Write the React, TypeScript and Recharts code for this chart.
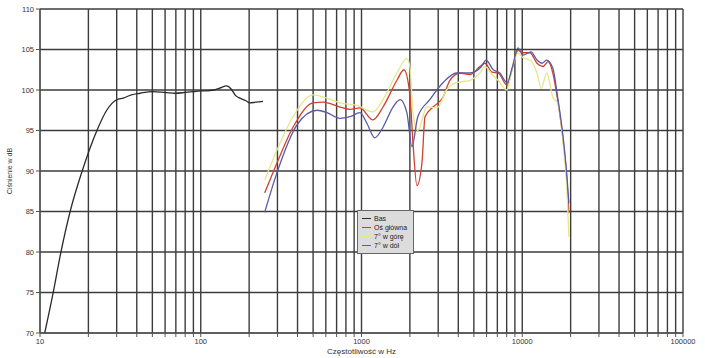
import React from 'react';
import { LineChart, Line, XAxis, YAxis, CartesianGrid, Legend } from 'recharts';

// frequency in Hz, level in dB
const bassF = [10.7, 12, 13.5, 15.4, 18.3, 22.6, 26, 30, 33, 37, 42, 50, 60, 70, 80, 90, 100, 110, 120, 130, 145, 155, 165, 175, 190, 202, 220, 244];
const bassDb = [70, 74.7, 80, 85, 90, 95, 97.5, 98.8, 99.0, 99.4, 99.6, 99.8, 99.7, 99.6, 99.7, 99.8, 99.9, 99.9, 100, 100.2, 100.5, 100.1, 99.3, 99.0, 98.7, 98.4, 98.5, 98.6];

const mainF = [250, 298, 375, 499, 576, 734, 848, 978, 1176, 1361, 1661, 1838, 2000, 2090, 2213, 2377, 2484, 2786, 3214, 3548, 4100, 4730, 5456, 5860, 6490, 7070, 8040, 8630, 9410, 10100, 11170, 12350, 13460, 14460, 15500, 16600, 17950, 18970, 19500];
const mainDb = [87.3, 91.0, 95.4, 98.4, 98.5, 97.9, 97.6, 97.8, 96.3, 97.9, 101.2, 102.5, 99.4, 93.5, 88.2, 91.0, 96.7, 97.9, 99.1, 101.2, 102.1, 101.9, 102.9, 103.3, 102.2, 102.1, 100.6, 102.5, 104.9, 104.6, 104.6, 103.3, 102.9, 103.5, 102.1, 98.8, 93.8, 88.9, 84.8];

const upF = [250, 298, 375, 499, 610, 734, 940, 1176, 1361, 1661, 1915, 2000, 2090, 2240, 2550, 2960, 3380, 3900, 4730, 5456, 5860, 6490, 7070, 8040, 8630, 9410, 10100, 11170, 12350, 13140, 14200, 15500, 16600, 17950, 18970, 19500];
const upDb = [88.9, 92.6, 96.7, 99.4, 99.0, 98.4, 98.1, 97.3, 98.8, 102.1, 103.9, 102.9, 97.2, 95.0, 97.9, 97.8, 100.0, 100.9, 101.2, 102.1, 102.9, 101.9, 101.2, 100.0, 102.5, 104.6, 104.0, 103.7, 102.1, 100.2, 102.1, 99.1, 98.4, 93.5, 87.7, 81.9];

const downF = [250, 298, 397, 529, 610, 734, 848, 978, 1080, 1210, 1361, 1570, 1740, 1915, 2060, 2240, 2660, 3210, 3900, 4730, 5570, 5950, 6600, 7250, 8040, 8700, 9410, 10100, 11350, 12350, 13300, 14200, 15500, 16600, 17950, 18970, 19500];
const downDb = [84.9, 89.8, 95.7, 97.5, 97.2, 96.5, 96.7, 97.2, 95.9, 94.1, 95.4, 97.9, 98.8, 97.2, 93.0, 96.7, 98.8, 100.9, 102.1, 102.1, 102.9, 103.7, 102.5, 102.1, 100.9, 102.9, 105.2, 104.3, 104.7, 103.7, 103.3, 103.7, 102.7, 99.1, 94.2, 89.3, 86.0];

const yTicks = [70, 75, 80, 85, 90, 95, 100, 105, 110];
const decades = [10, 100, 1000, 10000];
const xTicks: number[] = [];
decades.forEach((d) => {
  for (let m = 1; m <= 9; m++) xTicks.push(d * m);
});
xTicks.push(100000);

const toPoints = (fs: number[], dbs: number[]) => fs.map((f, i) => ({ f, db: dbs[i] }));

const series = [
  { name: 'Bas', color: '#2a2a2a', data: toPoints(bassF, bassDb) },
  { name: 'Oś główna', color: '#d0402c', data: toPoints(mainF, mainDb) },
  { name: '7° w górę', color: '#e6e68a', data: toPoints(upF, upDb) },
  { name: '7° w dół', color: '#5a5aa8', data: toPoints(downF, downDb) },
];

const isDecade = (v: number) => Math.abs(Math.log10(v) - Math.round(Math.log10(v))) < 1e-9;

const LegendBox = () => (
  <div
    style={{
      background: '#dcdcdc',
      border: '1px solid #666',
      padding: '3px 6px 3px 4px',
      fontFamily: 'Liberation Sans, Arial, sans-serif',
      fontSize: 7,
      lineHeight: '9px',
      color: '#222',
    }}
  >
    {series.map((s) => (
      <div key={s.name} style={{ display: 'flex', alignItems: 'center' }}>
        <span style={{ display: 'inline-block', width: 9, height: 1.5, background: s.color, marginRight: 3 }} />
        {s.name}
      </div>
    ))}
  </div>
);

const tickStyle = { fontSize: 7.5, fill: '#333', fontFamily: 'Liberation Sans, Arial, sans-serif' };

export default function App() {
  return (
    <div style={{ position: 'absolute', left: 0, top: 0, background: '#fff' }}>
      <LineChart width={705} height={358} margin={{ top: 9, right: 22, left: 0, bottom: 0 }}>
        <CartesianGrid stroke="#3c3c3c" strokeWidth={1.4} />
        <XAxis
          dataKey="f"
          type="number"
          scale="log"
          domain={[10, 100000]}
          ticks={xTicks}
          interval={0}
          allowDataOverflow
          tickFormatter={(v: number) => (isDecade(v) ? String(v) : '')}
          tick={tickStyle}
          tickSize={4}
          stroke="#555"
          height={25}
          label={{ value: 'Częstotliwość w Hz', position: 'insideBottom', offset: 4, style: { ...tickStyle, fontSize: 8 } }}
        />
        <YAxis
          type="number"
          domain={[70, 110]}
          ticks={yTicks}
          interval={0}
          tick={tickStyle}
          tickSize={4}
          stroke="#555"
          width={40}
          label={{ value: 'Ciśnienie w dB', angle: -90, position: 'insideLeft', offset: 10, style: { ...tickStyle, fontSize: 7, textAnchor: 'middle' } }}
        />
        <Legend
          layout="vertical"
          align="center"
          verticalAlign="middle"
          content={() => <LegendBox />}
          wrapperStyle={{ left: 357, top: 210, width: 'auto' }}
        />
        {series.map((s) => (
          <Line
            key={s.name}
            data={s.data}
            dataKey="db"
            name={s.name}
            type="monotone"
            stroke={s.color}
            strokeWidth={1.3}
            dot={false}
            isAnimationActive={false}
          />
        ))}
      </LineChart>
    </div>
  );
}
